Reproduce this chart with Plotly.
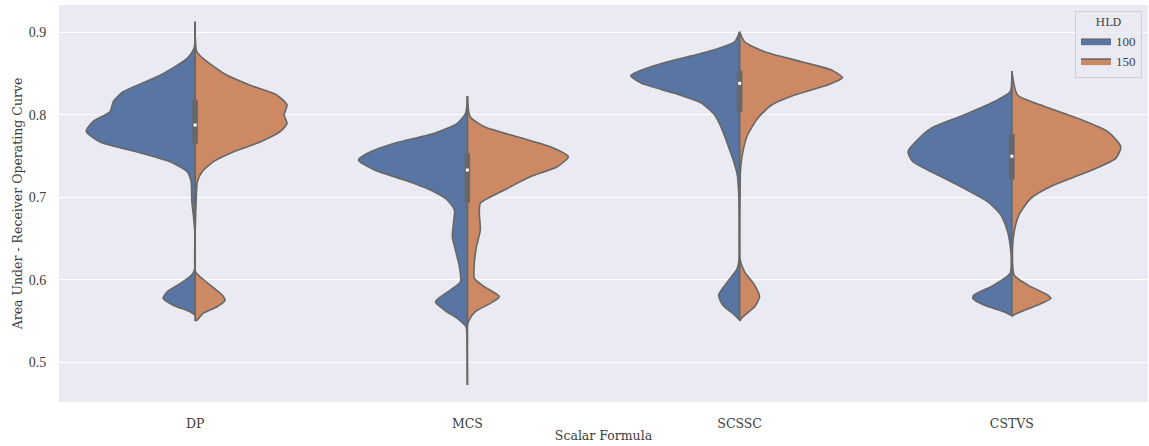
import plotly.graph_objects as go

categories = ["DP", "MCS", "SCSSC", "CSTVS"]
hue_levels = ["100", "150"]

# Relative density profiles (AUC value, relative density)
DP_100_auc = [0.913, 0.881, 0.8686, 0.848, 0.828, 0.816, 0.804, 0.792, 0.780, 0.767, 0.755, 0.743, 0.731, 0.719, 0.6945, 0.678, 0.658, 0.614, 0.6076, 0.5975, 0.5853, 0.5773, 0.569, 0.561, 0.557]
DP_100_den = [0, .009, .073, .321, .661, .752, .780, .936, 1.0, .872, .532, .229, .073, .037, .030, .016, .003, .003, .021, .110, .257, .294, .202, .046, 0]
DP_150_auc = [0.913, 0.8766, 0.8645, 0.848, 0.836, 0.824, 0.812, 0.7998, 0.7897, 0.7795, 0.767, 0.755, 0.743, 0.731, 0.719, 0.6945, 0.670, 0.6095, 0.6035, 0.5934, 0.5813, 0.5752, 0.5671, 0.5591, 0.551, 0.550]
DP_150_den = [0, .016, .110, .294, .505, .752, .844, .817, .844, .780, .596, .349, .165, .064, .021, .009, .003, .003, .046, .138, .248, .275, .202, .073, .018, 0]

MCS_100_auc = [0.8228, 0.8018, 0.7897, 0.7775, 0.7654, 0.7533, 0.7451, 0.733, 0.7209, 0.7087, 0.6966, 0.6845, 0.6683, 0.6521, 0.636, 0.6157, 0.5975, 0.5874, 0.5732, 0.5631, 0.551, 0.5429, 0.5267, 0.4721]
MCS_100_den = [0, .016, .092, .303, .670, .917, 1.0, .853, .578, .339, .183, .119, .128, .138, .110, .073, .064, .156, .294, .211, .073, .012, .004, 0]
MCS_150_auc = [0.8228, 0.7977, 0.7856, 0.7734, 0.7613, 0.7492, 0.737, 0.7249, 0.7087, 0.6926, 0.6804, 0.6602, 0.6400, 0.6198, 0.6016, 0.5914, 0.5793, 0.5712, 0.5611, 0.551, 0.545]
MCS_150_den = [0, .025, .156, .459, .761, .927, .826, .578, .339, .119, .110, .119, .083, .064, .064, .156, .294, .211, .073, .016, 0]

SCSSC_100_auc = [0.9009, 0.8887, 0.8766, 0.8645, 0.8544, 0.8475, 0.8382, 0.8261, 0.814, 0.7998, 0.7836, 0.7674, 0.7472, 0.7269, 0.7067, 0.6865, 0.6258, 0.6137, 0.5975, 0.5813, 0.5692, 0.557, 0.551]
SCSSC_100_den = [0, .046, .294, .661, .899, 1.0, .899, .596, .349, .229, .165, .119, .064, .021, .009, .005, .005, .021, .110, .193, .156, .046, 0]
SCSSC_150_auc = [0.9009, 0.8887, 0.8766, 0.8645, 0.8544, 0.8451, 0.8362, 0.824, 0.8119, 0.7957, 0.7755, 0.7553, 0.735, 0.70, 0.625, 0.6095, 0.5934, 0.5793, 0.5671, 0.555, 0.5498]
SCSSC_150_den = [0, .046, .229, .569, .844, .945, .807, .505, .294, .165, .073, .030, .009, .003, .003, .046, .138, .183, .138, .030, 0]

CSTVS_100_auc = [0.8532, 0.828, 0.8159, 0.7998, 0.7836, 0.7715, 0.7553, 0.7431, 0.7269, 0.7108, 0.6945, 0.6784, 0.6581, 0.642, 0.6258, 0.6076, 0.5934, 0.5813, 0.5773, 0.5692, 0.5611, 0.5562]
CSTVS_100_den = [0, .016, .165, .440, .743, .853, .954, .908, .679, .440, .220, .101, .039, .016, .006, .016, .165, .349, .358, .257, .073, 0]
CSTVS_150_auc = [0.8532, 0.824, 0.8119, 0.7957, 0.7795, 0.7613, 0.7472, 0.7309, 0.7148, 0.6987, 0.6784, 0.6581, 0.6379, 0.6055, 0.5934, 0.5813, 0.5773, 0.5692, 0.5611, 0.5562, 0.5555]
CSTVS_150_den = [0, .052, .266, .606, .881, 1.0, .954, .697, .385, .174, .064, .021, .006, .021, .147, .330, .358, .239, .083, .006, 0]

# Inner box statistics per category (q1, median, q3)
box_q1 = [0.765, 0.6935, 0.8038, 0.7217]
box_median = [0.7876, 0.733, 0.8382, 0.7497]
box_q3 = [0.818, 0.7533, 0.8535, 0.7767]

profiles = {
    ("DP", "100"): (DP_100_auc, DP_100_den), ("DP", "150"): (DP_150_auc, DP_150_den),
    ("MCS", "100"): (MCS_100_auc, MCS_100_den), ("MCS", "150"): (MCS_150_auc, MCS_150_den),
    ("SCSSC", "100"): (SCSSC_100_auc, SCSSC_100_den), ("SCSSC", "150"): (SCSSC_150_auc, SCSSC_150_den),
    ("CSTVS", "100"): (CSTVS_100_auc, CSTVS_100_den), ("CSTVS", "150"): (CSTVS_150_auc, CSTVS_150_den),
}

colors = {"100": "#5875a4", "150": "#cc8963"}
edge = "#676767"
half_width = 0.4
text_font = "DejaVu Serif"
num_font = "Liberation Serif"
text_color = "#3c3c3c"
clear = "rgba(0,0,0,0)"

fig = go.Figure()
for i, cat in enumerate(categories):
    tops, bottoms = [], []
    for h, side in zip(hue_levels, (-1, 1)):
        auc, den = profiles[(cat, h)]
        xs = [i + side * d * half_width for d in den]
        fig.add_trace(go.Scatter(
            x=xs, y=list(auc), mode="lines", fill="toself", fillcolor=colors[h],
            line=dict(color=edge, width=1.6, shape="spline", smoothing=0.6),
            name=h, legendgroup=h, showlegend=(i == 0), hoverinfo="skip",
        ))
        tops.append(max(auc))
        bottoms.append(min(auc))
    # centre line (split edge / whisker)
    fig.add_trace(go.Scatter(
        x=[i, i], y=[max(tops), min(bottoms)], mode="lines",
        line=dict(color=edge, width=1.8), showlegend=False, hoverinfo="skip",
    ))
    fig.add_trace(go.Scatter(
        x=[i, i], y=[box_q1[i], box_q3[i]], mode="lines",
        line=dict(color=edge, width=5.5), showlegend=False, hoverinfo="skip",
    ))
    fig.add_trace(go.Scatter(
        x=[i], y=[box_median[i]], mode="markers",
        marker=dict(color="white", size=3, symbol="square"), showlegend=False, hoverinfo="skip",
    ))

fig.update_layout(
    width=1149, height=446,
    margin=dict(l=59, r=1, t=5, b=44, autoexpand=False),
    plot_bgcolor="#eaeaf2", paper_bgcolor="white",
    font=dict(family=text_font, size=13, color=text_color),
    xaxis=dict(range=[-0.5, 3.5], tickmode="array", tickvals=list(range(len(categories))),
               ticktext=categories, showgrid=False, zeroline=False,
               ticks="outside", ticklen=10, tickcolor=clear, automargin=False,
               tickfont=dict(family=text_font, size=12.5),
               title=dict(text="Scalar Formula", standoff=1, font=dict(size=12.5))),
    yaxis=dict(range=[0.4515, 0.9333], tickvals=[0.5, 0.6, 0.7, 0.8, 0.9],
               ticktext=["0.5", "0.6", "0.7", "0.8", "0.9"], gridcolor="white", gridwidth=1.2,
               zeroline=False, ticks="outside", ticklen=9, tickcolor=clear, automargin=False,
               tickfont=dict(family=num_font, size=14),
               title=dict(text="Area Under - Receiver Operating Curve", standoff=3, font=dict(size=12.5))),
    legend=dict(x=0.9945, y=0.985, xanchor="right", yanchor="top",
                bgcolor="rgba(234,234,242,0.85)", bordercolor="#d0d0d0", borderwidth=1,
                title=dict(text="HLD", side="top center", font=dict(family=text_font, size=11)),
                font=dict(family=num_font, size=13), itemwidth=30, tracegroupgap=0),
    showlegend=True,
)

fig.write_html("out.html", config={"displayModeBar": False},
               post_script="document.body.style.margin='0';document.body.style.overflow='hidden';")
